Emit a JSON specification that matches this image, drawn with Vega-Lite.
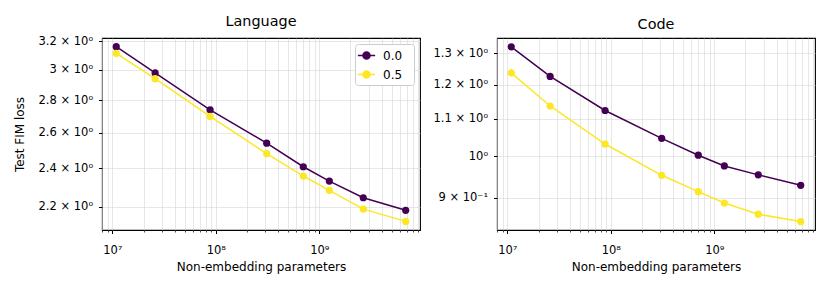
{
  "$schema": "https://vega.github.io/schema/vega-lite/v6.json",
  "padding": {"left": 12, "top": 13, "right": 8, "bottom": 5},
  "config": {
    "font": "DejaVu Sans",
    "view": {"stroke": "black", "strokeWidth": 1.1},
    "axis": {
      "domain": false,
      "labelFont": "DejaVu Sans",
      "labelFontSize": 11.5,
      "labelColor": "black",
      "titleFont": "DejaVu Sans",
      "titleFontSize": 12,
      "titleFontWeight": "normal",
      "titleColor": "black",
      "tickColor": "black",
      "gridColor": "#d6d6d6",
      "gridWidth": 0.6,
      "labelOverlap": false,
      "labelFlush": false,
      "labelBound": false
    },
    "title": {"fontSize": 14.4, "fontWeight": "normal", "font": "DejaVu Sans", "color": "black", "offset": 6},
    "legend": {"labelFont": "DejaVu Sans", "labelFontSize": 12, "labelColor": "black"}
  },
  "datasets": {
    "fim": [
      {"task": "Language", "alpha": "0.0", "params": 1.09e7, "loss": 3.159},
      {"task": "Language", "alpha": "0.0", "params": 2.59e7, "loss": 2.977},
      {"task": "Language", "alpha": "0.0", "params": 8.8e7, "loss": 2.739},
      {"task": "Language", "alpha": "0.0", "params": 3.1e8, "loss": 2.540},
      {"task": "Language", "alpha": "0.0", "params": 7.0e8, "loss": 2.408},
      {"task": "Language", "alpha": "0.0", "params": 1.25e9, "loss": 2.331},
      {"task": "Language", "alpha": "0.0", "params": 2.66e9, "loss": 2.245},
      {"task": "Language", "alpha": "0.0", "params": 6.84e9, "loss": 2.182},
      {"task": "Language", "alpha": "0.5", "params": 1.09e7, "loss": 3.112},
      {"task": "Language", "alpha": "0.5", "params": 2.59e7, "loss": 2.939},
      {"task": "Language", "alpha": "0.5", "params": 8.8e7, "loss": 2.698},
      {"task": "Language", "alpha": "0.5", "params": 3.1e8, "loss": 2.480},
      {"task": "Language", "alpha": "0.5", "params": 7.0e8, "loss": 2.358},
      {"task": "Language", "alpha": "0.5", "params": 1.25e9, "loss": 2.283},
      {"task": "Language", "alpha": "0.5", "params": 2.66e9, "loss": 2.188},
      {"task": "Language", "alpha": "0.5", "params": 6.84e9, "loss": 2.128},
      {"task": "Code", "alpha": "0.0", "params": 1.09e7, "loss": 1.322},
      {"task": "Code", "alpha": "0.0", "params": 2.59e7, "loss": 1.226},
      {"task": "Code", "alpha": "0.0", "params": 8.8e7, "loss": 1.124},
      {"task": "Code", "alpha": "0.0", "params": 3.1e8, "loss": 1.047},
      {"task": "Code", "alpha": "0.0", "params": 7.0e8, "loss": 1.003},
      {"task": "Code", "alpha": "0.0", "params": 1.25e9, "loss": 0.976},
      {"task": "Code", "alpha": "0.0", "params": 2.66e9, "loss": 0.954},
      {"task": "Code", "alpha": "0.0", "params": 6.84e9, "loss": 0.929},
      {"task": "Code", "alpha": "0.5", "params": 1.09e7, "loss": 1.237},
      {"task": "Code", "alpha": "0.5", "params": 2.59e7, "loss": 1.137},
      {"task": "Code", "alpha": "0.5", "params": 8.8e7, "loss": 1.032},
      {"task": "Code", "alpha": "0.5", "params": 3.1e8, "loss": 0.953},
      {"task": "Code", "alpha": "0.5", "params": 7.0e8, "loss": 0.914},
      {"task": "Code", "alpha": "0.5", "params": 1.25e9, "loss": 0.888},
      {"task": "Code", "alpha": "0.5", "params": 2.66e9, "loss": 0.863},
      {"task": "Code", "alpha": "0.5", "params": 6.84e9, "loss": 0.847}
    ]
  },
  "spacing": 11,
  "resolve": {"legend": {"color": "independent"}},
  "hconcat": [
    {
      "title": "Language",
      "width": 318,
      "height": 192,
      "data": {"name": "fim"},
      "transform": [{"filter": "datum.task == 'Language'"}],
      "encoding": {
        "x": {
          "field": "params", "type": "quantitative",
          "scale": {"type": "log", "domain": [7.94e6, 9.4e9], "nice": false},
          "title": "Non-embedding parameters",
          "axis": {
            "values": [8e6, 9e6, 1e7, 2e7, 3e7, 4e7, 5e7, 6e7, 7e7, 8e7, 9e7, 1e8, 2e8, 3e8, 4e8, 5e8, 6e8, 7e8, 8e8, 9e8, 1e9, 2e9, 3e9, 4e9, 5e9, 6e9, 7e9, 8e9, 9e9],
            "labelExpr": "datum.value == 1e7 ? '10⁷' : datum.value == 1e8 ? '10⁸' : datum.value == 1e9 ? '10⁹' : ''",
            "tickSize": {"condition": {"test": "datum.value == 1e7 || datum.value == 1e8 || datum.value == 1e9", "value": 3.5}, "value": 2},
            "tickWidth": {"condition": {"test": "datum.value == 1e7 || datum.value == 1e8 || datum.value == 1e9", "value": 1}, "value": 0.7},
            "labelPadding": 11,
            "titlePadding": 5
          }
        },
        "y": {
          "field": "loss", "type": "quantitative",
          "scale": {"type": "log", "domain": [2.087, 3.222], "nice": false, "zero": false},
          "title": "Test FIM loss",
          "axis": {
            "values": [2.2, 2.4, 2.6, 2.8, 3.0, 3.2],
            "labelExpr": "(abs(datum.value - round(datum.value)) < 1e-9 ? format(datum.value, '.0f') : format(datum.value, '.1f')) + ' × 10⁰'",
            "tickSize": 3.5,
            "labelPadding": 6,
            "titlePadding": 12
          }
        },
        "color": {
          "field": "alpha", "type": "nominal",
          "scale": {"domain": ["0.0", "0.5"], "range": ["#440154", "#fde725"]},
          "legend": {
            "title": null,
            "orient": "top-right",
            "offset": 6,
            "padding": 3,
            "rowPadding": 3,
            "strokeColor": "#cccccc",
            "fillColor": "white",
            "cornerRadius": 3,
            "symbolType": "M-1.15,0L1.15,0M-0.47,0A0.47,0.47,0,1,1,0.47,0A0.47,0.47,0,1,1,-0.47,0Z",
            "symbolSize": 225,
            "symbolStrokeWidth": 1.5,
            "labelOffset": 8,
            "labelExpr": "datum.label + '\u2800'",
            "encode": {
              "symbols": {"update": {"fill": {"scale": "color", "field": "value"}, "stroke": {"scale": "color", "field": "value"}, "opacity": {"value": 1}}}
            }
          }
        }
      },
      "layer": [
        {"mark": {"type": "line", "strokeWidth": 1.5}},
        {"mark": {"type": "point", "filled": true, "size": 52, "opacity": 1}}
      ]
    },
    {
      "title": "Code",
      "width": 318,
      "height": 192,
      "data": {"name": "fim"},
      "transform": [{"filter": "datum.task == 'Code'"}],
      "encoding": {
        "x": {
          "field": "params", "type": "quantitative",
          "scale": {"type": "log", "domain": [7.94e6, 9.4e9], "nice": false},
          "title": "Non-embedding parameters",
          "axis": {
            "values": [8e6, 9e6, 1e7, 2e7, 3e7, 4e7, 5e7, 6e7, 7e7, 8e7, 9e7, 1e8, 2e8, 3e8, 4e8, 5e8, 6e8, 7e8, 8e8, 9e8, 1e9, 2e9, 3e9, 4e9, 5e9, 6e9, 7e9, 8e9, 9e9],
            "labelExpr": "datum.value == 1e7 ? '10⁷' : datum.value == 1e8 ? '10⁸' : datum.value == 1e9 ? '10⁹' : ''",
            "tickSize": {"condition": {"test": "datum.value == 1e7 || datum.value == 1e8 || datum.value == 1e9", "value": 3.5}, "value": 2},
            "tickWidth": {"condition": {"test": "datum.value == 1e7 || datum.value == 1e8 || datum.value == 1e9", "value": 1}, "value": 0.7},
            "labelPadding": 11,
            "titlePadding": 5
          }
        },
        "y": {
          "field": "loss", "type": "quantitative",
          "scale": {"type": "log", "domain": [0.829, 1.352], "nice": false, "zero": false},
          "title": null,
          "axis": {
            "values": [0.9, 1.0, 1.1, 1.2, 1.3],
            "labelExpr": "abs(datum.value - 1) < 1e-9 ? '10⁰' : datum.value < 1 ? format(datum.value * 10, '.0f') + ' × 10⁻¹' : format(datum.value, '.1f') + ' × 10⁰'",
            "tickSize": 3.5,
            "labelPadding": 6
          }
        },
        "color": {
          "field": "alpha", "type": "nominal",
          "scale": {"domain": ["0.0", "0.5"], "range": ["#440154", "#fde725"]},
          "legend": null
        }
      },
      "layer": [
        {"mark": {"type": "line", "strokeWidth": 1.5}},
        {"mark": {"type": "point", "filled": true, "size": 52, "opacity": 1}}
      ]
    }
  ]
}
